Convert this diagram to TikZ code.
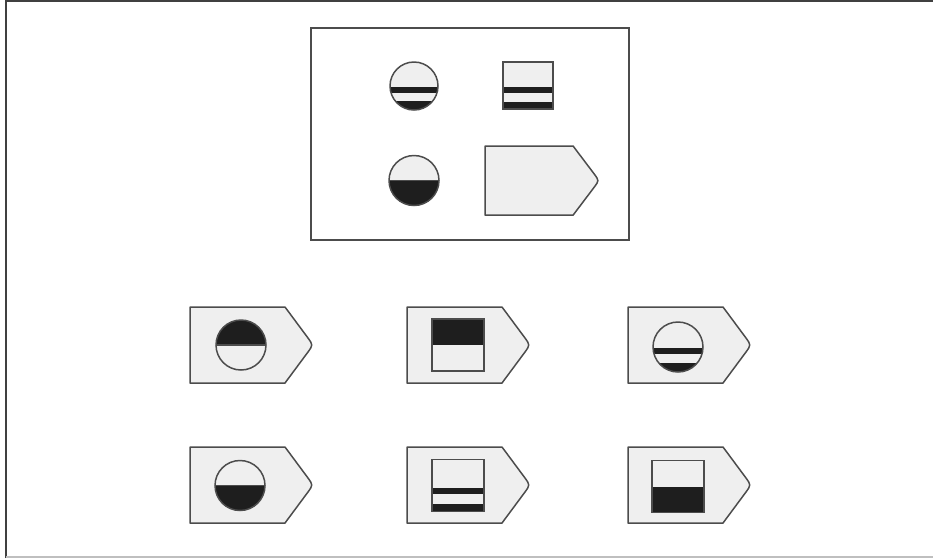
\documentclass[tikz,border=0pt]{standalone}
\usepackage{tikz}
\usetikzlibrary{positioning, calc}

\definecolor{tagfill}{HTML}{EFEFEF}
\definecolor{inkdark}{HTML}{1E1E1E}

\tikzset{
    outline/.style={draw=black!70, line width=1.5pt},
    darkfill/.style={fill=inkdark},
    % pentagon tag, top-left corner at the pic origin
    pics/tagshape/.style={code={
        \draw[outline, fill=tagfill, line join=round]
            (0,0) -- (95,0) -- (118,31) .. controls (123,38) .. (118,45)
            -- (95,76) -- (0,76) -- cycle;
    }},
    pics/ringtop/.style={code={
        \fill[tagfill] (0,0) circle (25);
        \begin{scope}
            \clip (0,0) circle (25);
            \fill[darkfill] (-25,-25) rectangle (25,0);
        \end{scope}
        \draw[outline] (-25,0) -- (25,0);
        \draw[outline] (0,0) circle (25);
    }},
    pics/ringbottom/.style={code={
        \fill[tagfill] (0,0) circle (25);
        \begin{scope}
            \clip (0,0) circle (25);
            \fill[darkfill] (-25,0) rectangle (25,25);
        \end{scope}
        \draw[outline] (-25,0) -- (25,0);
        \draw[outline] (0,0) circle (25);
    }},
    pics/ringstripes/.style={code={
        \fill[tagfill] (0,0) circle (25);
        \begin{scope}
            \clip (0,0) circle (25);
            \fill[darkfill] (-25,1) rectangle (25,7);
            \fill[darkfill] (-25,16) rectangle (25,25);
        \end{scope}
        \draw[outline] (0,0) circle (25);
    }},
    pics/boxtop/.style={code={
        \fill[tagfill] (-26,-26) rectangle (26,26);
        \fill[darkfill] (-26,-26) rectangle (26,0);
        \draw[outline] (-26,-26) rectangle (26,26);
    }},
    pics/boxbottom/.style={code={
        \fill[tagfill] (-26,-26) rectangle (26,26);
        \fill[darkfill] (-26,0) rectangle (26,26);
        \draw[outline] (-26,-26) rectangle (26,26);
    }},
    pics/boxstripes/.style={code={
        \fill[tagfill] (-26,-26) rectangle (26,26);
        \fill[darkfill] (-26,2) rectangle (26,8.5);
        \fill[darkfill] (-26,18) rectangle (26,26);
        \draw[outline] (-26,-26) rectangle (26,26);
    }}
}

\begin{document}
\begin{tikzpicture}[x=1pt, y=-1pt]
\useasboundingbox (0,0) rectangle (933,558);

% page frame
\draw[black!75, line width=2pt] (6,558) -- (6,1) -- (933,1);
\draw[black!25, line width=1.5pt] (6,557) -- (933,557);

% question panel
\coordinate (panelTL) at (311,28);
\coordinate (panelBR) at (629,240);
\draw[outline, line width=1.2pt] (panelTL) rectangle (panelBR);

\coordinate (qA) at (414,86);
\coordinate (qB) at (528,85.5);
\coordinate (qC) at (414,180.5);
\coordinate (qD) at (485,146);

\pic[scale=0.96] at (qA) {ringstripes};
\pic[xscale=0.96, yscale=0.9] at (qB) {boxstripes};
\pic at (qC) {ringbottom};
\pic[xscale=0.927, yscale=0.91] at (qD) {tagshape};

% answer tags
\coordinate (tagA) at (190,307);
\coordinate (tagB) at (407,307);
\coordinate (tagC) at (628,307);
\coordinate (tagD) at (190,447);
\coordinate (tagE) at (407,447);
\coordinate (tagF) at (628,447);

\foreach \t in {tagA,tagB,tagC,tagD,tagE,tagF}
    \pic at (\t) {tagshape};

\pic at ($(tagA)+(51,38)$) {ringtop};
\pic at ($(tagB)+(51,38)$) {boxtop};
\pic at ($(tagC)+(50,40)$) {ringstripes};
\pic at ($(tagD)+(50,38.5)$) {ringbottom};
\pic at ($(tagE)+(51,38.5)$) {boxstripes};
\pic at ($(tagF)+(50,39.5)$) {boxbottom};
\end{tikzpicture}
\end{document}
